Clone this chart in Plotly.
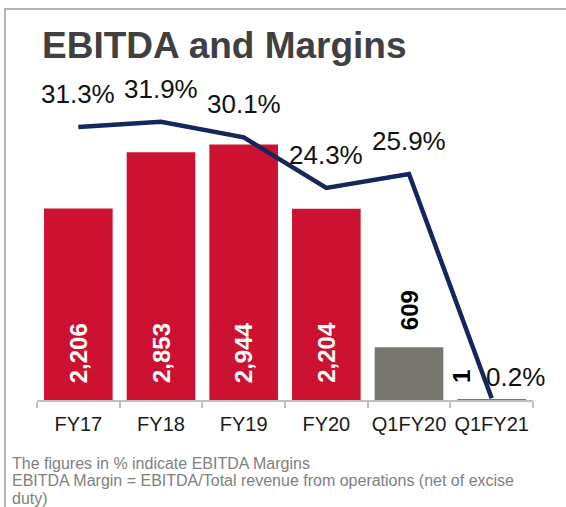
import plotly.graph_objects as go

categories = ["FY17", "FY18", "FY19", "FY20", "Q1FY20", "Q1FY21"]
ebitda = [2206, 2853, 2944, 2204, 609, 1]
ebitda_labels = ["2,206", "2,853", "2,944", "2,204", "609", "1"]
margins = [31.3, 31.9, 30.1, 24.3, 25.9, 0.2]
margin_labels = ["31.3%", "31.9%", "30.1%", "24.3%", "25.9%", "0.2%"]
bar_colors = ["#CC1230", "#CC1230", "#CC1230", "#CC1230", "#76766F", "#76766F"]
footnote_lines = [
    "The figures in % indicate EBITDA Margins",
    "EBITDA Margin = EBITDA/Total revenue from operations (net of excise",
    "duty)",
]

W, H = 566, 507
L, R, T, B = 37, 33, 70, 107
plot_w = W - L - R
plot_h = H - T - B

FONT = "Liberation Sans, Arial, sans-serif"

fig = go.Figure()
fig.add_trace(go.Bar(
    x=categories, y=ebitda, marker=dict(color=bar_colors, line=dict(width=0)),
    yaxis="y", hoverinfo="skip", showlegend=False,
))
fig.add_trace(go.Scatter(
    x=categories, y=margins, mode="lines", yaxis="y2",
    line=dict(color="#14265C", width=4.5), hoverinfo="skip", showlegend=False,
))

annotations = []
for i, (c, m, lab) in enumerate(zip(categories, margins, margin_labels)):
    last = i == len(categories) - 1
    annotations.append(dict(
        x=c, y=m, xref="x", yref="y2", text=lab, showarrow=False,
        font=dict(family=FONT, size=26, color="#111111"),
        xanchor="center", yanchor="middle",
        xshift=24 if last else 0, yshift=21 if last else 33,
    ))
for i, (c, v, lab, col) in enumerate(zip(categories, ebitda, ebitda_labels, bar_colors)):
    inside = col == "#CC1230"
    annotations.append(dict(
        x=c, y=0 if inside else v, xref="x", yref="y", text="<b>%s</b>" % lab,
        showarrow=False, textangle=-90,
        font=dict(family=FONT, size=24, color="#FFFFFF" if inside else "#000000"),
        xanchor="center", yanchor="bottom", yshift=15,
        xshift=-30 if i == len(categories) - 1 else 0,
    ))

def px_x(px):
    return (px - L) / plot_w

def px_y(py):
    return (H - B - py) / plot_h

annotations.append(dict(
    x=px_x(40), y=px_y(46), xref="paper", yref="paper",
    text="<b>EBITDA and Margins</b>", showarrow=False,
    font=dict(family=FONT, size=37, color="#404040"),
    xanchor="left", yanchor="middle",
))
for k, line in enumerate(footnote_lines):
    annotations.append(dict(
        x=px_x(10), y=px_y(463 + 17.5 * k), xref="paper", yref="paper",
        text=line, showarrow=False, align="left",
        font=dict(family=FONT, size=16, color="#808080"),
        xanchor="left", yanchor="middle",
    ))

shapes = [
    dict(type="line", xref="paper", yref="paper", x0=px_x(4), x1=px_x(566), y0=px_y(9), y1=px_y(9),
         line=dict(color="#B5B5B5", width=2)),
    dict(type="line", xref="paper", yref="paper", x0=px_x(5), x1=px_x(5), y0=px_y(9), y1=px_y(507),
         line=dict(color="#B5B5B5", width=2)),
]

fig.update_layout(
    width=W, height=H,
    margin=dict(l=L, r=R, t=T, b=B, pad=0, autoexpand=False),
    paper_bgcolor="white", plot_bgcolor="white",
    bargap=0.17,
    showlegend=False,
    xaxis=dict(
        type="category", range=[-0.5, len(categories) - 0.5], autorange=False,
        tickson="boundaries", ticks="outside", ticklen=6,
        tickcolor="#BFBFBF", tickwidth=1.5, showline=True, linecolor="#BFBFBF", linewidth=1.5,
        showgrid=False, zeroline=False, tickangle=0, automargin=False, layer="above traces",
        ticklabelstandoff=5,
        tickfont=dict(family=FONT, size=20, color="#1A1A1A"),
    ),
    yaxis=dict(range=[0, plot_h / 0.0868], visible=False, showgrid=False, zeroline=False),
    yaxis2=dict(range=[0, plot_h / 8.724], overlaying="y", visible=False, showgrid=False, zeroline=False),
    annotations=annotations,
    shapes=shapes,
)

fig.write_html(
    "out.html",
    config={"displayModeBar": False},
    post_script="document.body.style.margin='0';document.body.style.overflow='hidden';",
)
